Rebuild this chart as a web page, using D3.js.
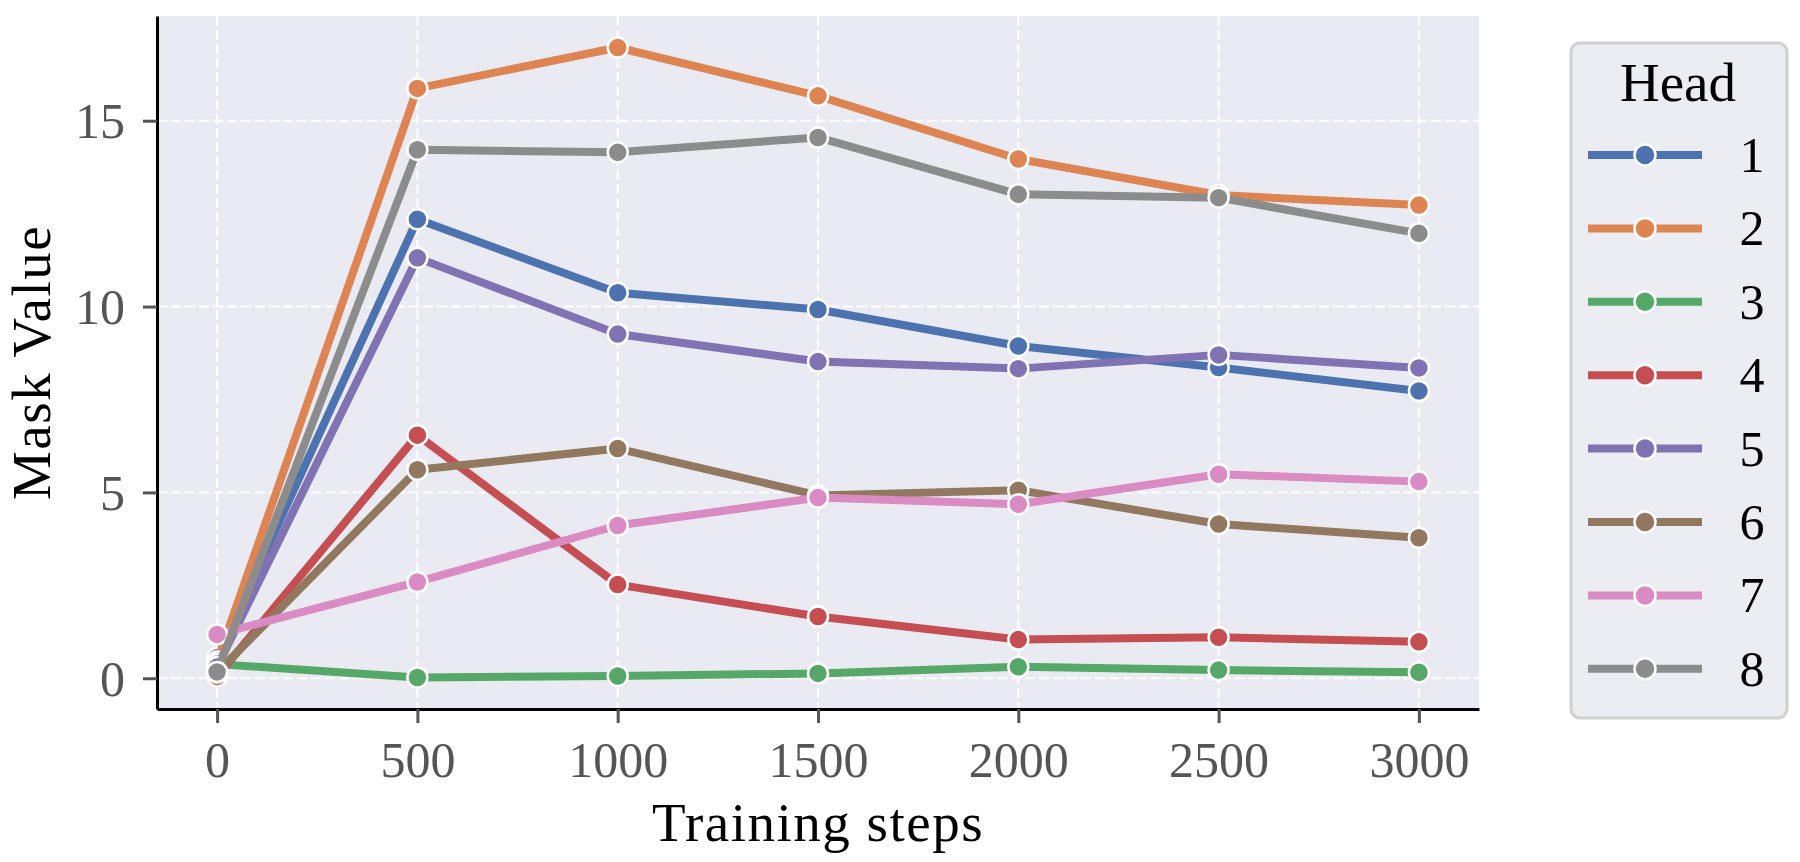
<!DOCTYPE html>
<html>
<head>
<meta charset="utf-8">
<script src="https://cdn.jsdelivr.net/npm/d3@7"></script>
<style>
  html, body { margin: 0; padding: 0; background: #fff; }
  svg { display: block; font-family: "Liberation Serif", "DejaVu Serif", serif; }
</style>
</head>
<body>
<div id="chart"></div>
<script>
// data
const steps = [0, 500, 1000, 1500, 2000, 2500, 3000];
const heads = ['1', '2', '3', '4', '5', '6', '7', '8'];
const head1 = [0.55, 12.35, 10.37, 9.92, 8.94, 8.36, 7.73];
const head2 = [0.45, 15.87, 16.97, 15.67, 13.97, 13.00, 12.73];
const head3 = [0.38, 0.02, 0.06, 0.13, 0.31, 0.22, 0.16];
const head4 = [0.05, 6.54, 2.52, 1.66, 1.04, 1.10, 0.98];
const head5 = [0.30, 11.31, 9.26, 8.52, 8.33, 8.70, 8.35];
const head6 = [0.15, 5.61, 6.18, 4.92, 5.06, 4.15, 3.78];
const head7 = [1.18, 2.59, 4.11, 4.86, 4.68, 5.49, 5.29];
const head8 = [0.17, 14.22, 14.15, 14.55, 13.02, 12.93, 11.97];
const series = [head1, head2, head3, head4, head5, head6, head7, head8];
const yTicks = [0, 5, 10, 15];

// graph constants
const w = 1800;
const h = 862;
const plot = { left: 157, right: 1479, top: 16, bottom: 709 };
const colors = ['#4C72B0', '#DD8452', '#55A868', '#C44E52', '#8172B3', '#937860', '#DA8BC3', '#8C8C8C'];
const tickColor = '#555';

const svg = d3.select('#chart')
    .append('svg')
    .attr('width', w)
    .attr('height', h);

// scales (matplotlib-like 5% margins)
const xScale = d3.scaleLinear()
    .domain([-150, 3150])
    .range([plot.left, plot.right]);
const yMax = d3.max(series, s => d3.max(s));
const yMin = d3.min(series, s => d3.min(s));
const yPad = (yMax - yMin) * 0.05;
const yScale = d3.scaleLinear()
    .domain([yMin - yPad, yMax + yPad])
    .range([plot.bottom, plot.top]);

// axes background
svg.append('rect')
    .attr('x', plot.left)
    .attr('y', plot.top)
    .attr('width', plot.right - plot.left)
    .attr('height', plot.bottom - plot.top)
    .attr('fill', '#EAEAF2');

// grid
const grid = svg.append('g')
    .attr('stroke', '#fff')
    .attr('stroke-width', 2)
    .attr('stroke-dasharray', '10,4');
grid.selectAll('line.gx')
    .data(steps)
    .enter()
    .append('line')
    .attr('x1', d => xScale(d))
    .attr('x2', d => xScale(d))
    .attr('y1', plot.top)
    .attr('y2', plot.bottom);
grid.selectAll('line.gy')
    .data(yTicks)
    .enter()
    .append('line')
    .attr('x1', plot.left)
    .attr('x2', plot.right)
    .attr('y1', d => yScale(d))
    .attr('y2', d => yScale(d));

// lines + markers, one series at a time
const line = d3.line()
    .x((d, i) => xScale(steps[i]))
    .y(d => yScale(d));

series.forEach((s, k) => {
    const g = svg.append('g');
    g.append('path')
        .datum(s)
        .attr('d', line)
        .attr('fill', 'none')
        .attr('stroke', colors[k])
        .attr('stroke-width', 8)
        .attr('stroke-linejoin', 'round');
    g.selectAll('circle')
        .data(s)
        .enter()
        .append('circle')
        .attr('cx', (d, i) => xScale(steps[i]))
        .attr('cy', d => yScale(d))
        .attr('r', 10)
        .attr('fill', colors[k])
        .attr('stroke', '#fff')
        .attr('stroke-width', 2.5);
});

// x axis
const xAxis = d3.axisBottom(xScale)
    .tickValues(steps)
    .tickFormat(d3.format('d'))
    .tickSizeInner(14)
    .tickSizeOuter(0);
const gx = svg.append('g')
    .attr('transform', `translate(0, ${plot.bottom})`)
    .call(xAxis)
    .attr('font-family', null)
    .attr('font-size', null);
gx.select('.domain').attr('stroke', '#000').attr('stroke-width', 3);
gx.selectAll('.tick line').attr('stroke', tickColor).attr('stroke-width', 3);
gx.selectAll('.tick text')
    .attr('y', 68)
    .attr('dy', 0)
    .attr('fill', tickColor)
    .style('font-size', '50px');

// y axis
const yAxis = d3.axisLeft(yScale)
    .tickValues(yTicks)
    .tickSizeInner(14)
    .tickSizeOuter(0);
const gy = svg.append('g')
    .attr('transform', `translate(${plot.left}, 0)`)
    .call(yAxis)
    .attr('font-family', null)
    .attr('font-size', null);
gy.select('.domain').attr('stroke', '#000').attr('stroke-width', 3);
gy.selectAll('.tick line').attr('stroke', tickColor).attr('stroke-width', 3);
gy.selectAll('.tick text')
    .attr('x', -32)
    .attr('dy', '0.34em')
    .attr('fill', tickColor)
    .style('font-size', '50px');

// axis labels
svg.append('text')
    .attr('x', (plot.left + plot.right) / 2)
    .attr('y', 841)
    .attr('text-anchor', 'middle')
    .style('font-size', '55px')
    .style('letter-spacing', '1.5px')
    .text('Training steps');
svg.append('text')
    .attr('transform', `translate(50, ${(plot.top + plot.bottom) / 2}) rotate(-90)`)
    .attr('text-anchor', 'middle')
    .style('font-size', '55px')
    .style('letter-spacing', '1.5px')
    .text('Mask Value');

// legend
const legend = svg.append('g');
legend.append('rect')
    .attr('x', 1571)
    .attr('y', 43)
    .attr('width', 216)
    .attr('height', 675)
    .attr('rx', 9)
    .attr('fill', '#ECECF3')
    .attr('stroke', '#D0D0D0')
    .attr('stroke-width', 3);
legend.append('text')
    .attr('x', 1678)
    .attr('y', 101)
    .attr('text-anchor', 'middle')
    .style('font-size', '55px')
    .text('Head');
const entries = legend.selectAll('g.entry')
    .data(heads)
    .enter()
    .append('g')
    .attr('transform', (d, i) => `translate(0, ${155 + i * 73.4})`);
entries.append('line')
    .attr('x1', 1588)
    .attr('x2', 1702)
    .attr('stroke', (d, i) => colors[i])
    .attr('stroke-width', 8);
entries.append('circle')
    .attr('cx', 1645)
    .attr('r', 10.5)
    .attr('fill', (d, i) => colors[i])
    .attr('stroke', '#fff')
    .attr('stroke-width', 2.5);
entries.append('text')
    .attr('x', 1752)
    .attr('y', 17)
    .attr('text-anchor', 'middle')
    .style('font-size', '50px')
    .text(d => d);
</script>
</body>
</html>
